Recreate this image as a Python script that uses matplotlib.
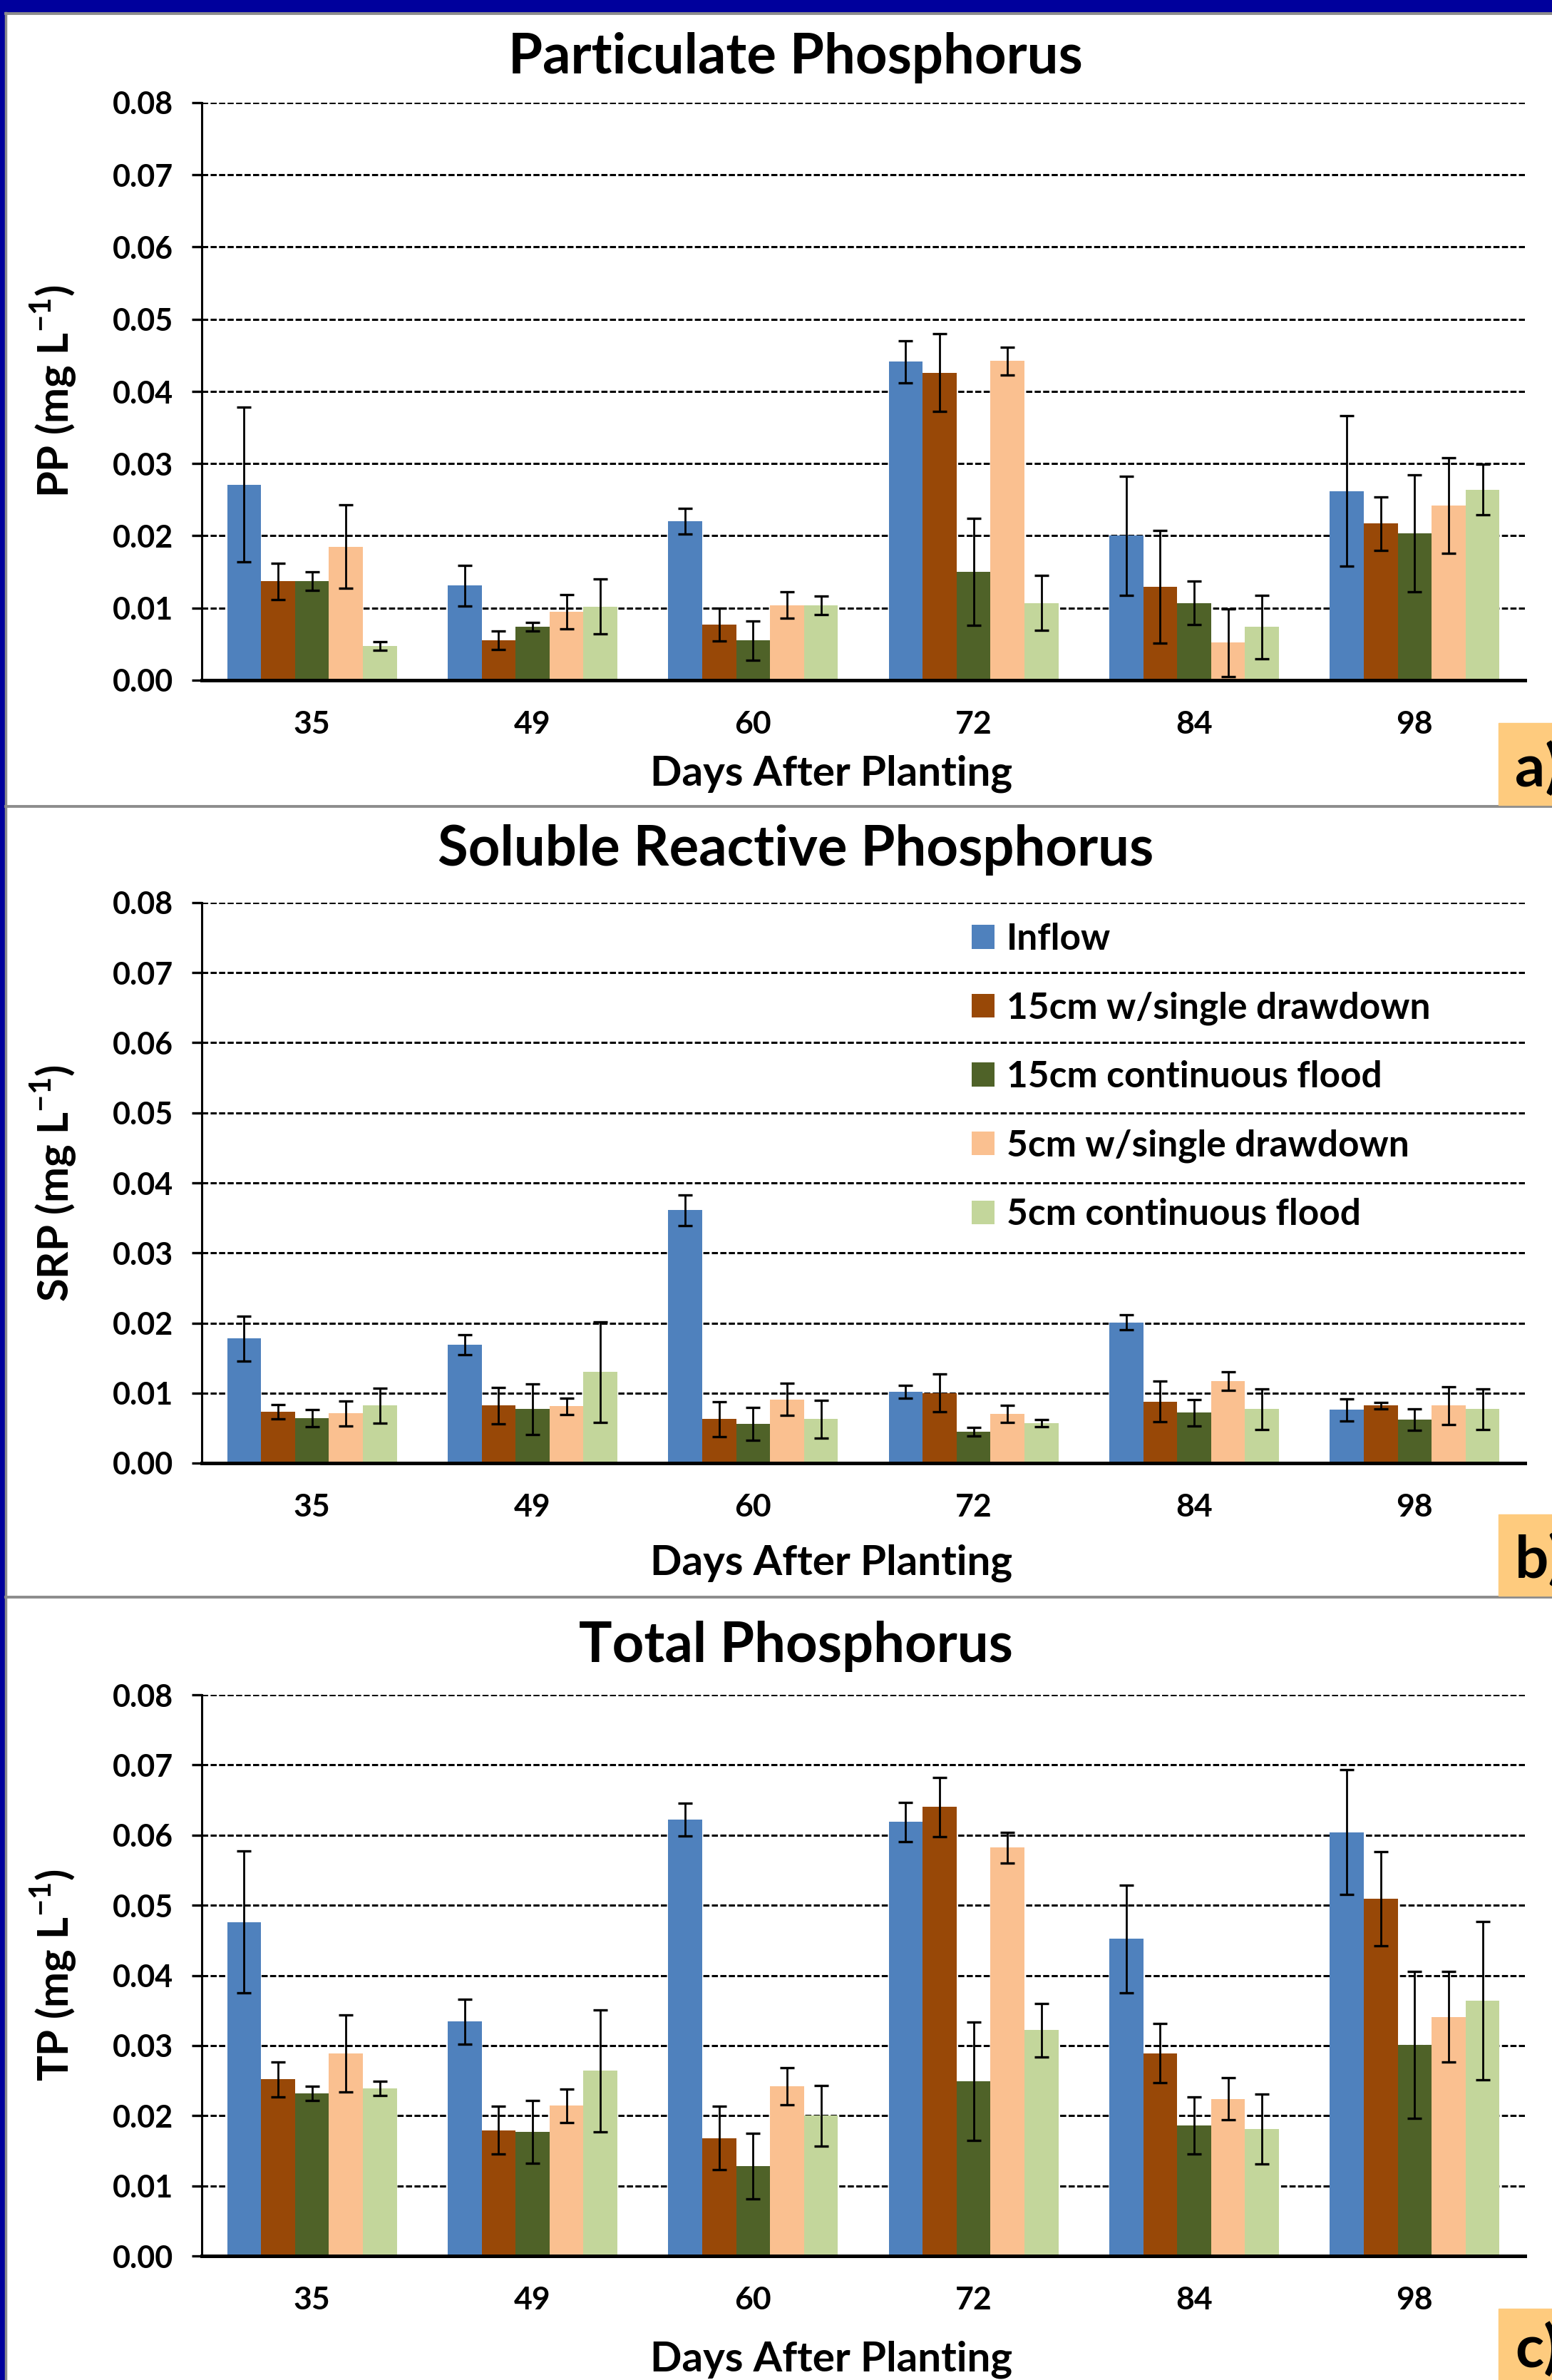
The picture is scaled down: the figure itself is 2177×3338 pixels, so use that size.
import matplotlib
matplotlib.use('Agg')
import matplotlib.pyplot as plt
import numpy as np
from matplotlib.patches import Rectangle
from matplotlib.lines import Line2D

plt.rcParams['font.family'] = ['Lato', 'DejaVu Sans']
plt.rcParams['font.weight'] = 'bold'
plt.rcParams['mathtext.fontset'] = 'custom'
plt.rcParams['mathtext.rm'] = 'Lato:bold'
plt.rcParams['mathtext.bf'] = 'Lato:bold'

days = ['35', '49', '60', '72', '84', '98']
treatments = ['Inflow', '15cm w/single drawdown', '15cm continuous flood',
              '5cm w/single drawdown', '5cm continuous flood']
colors = ['#4F81BD', '#984807', '#4F6228', '#FAC090', '#C3D69B']

# particulate P, one row per treatment
pp_mean = [
    [0.0271, 0.0131, 0.0220, 0.0441, 0.0200, 0.0262],
    [0.0137, 0.0055, 0.0077, 0.0426, 0.0129, 0.0217],
    [0.0137, 0.0074, 0.0055, 0.0150, 0.0107, 0.0203],
    [0.0185, 0.0095, 0.0104, 0.0442, 0.0052, 0.0242],
    [0.0047, 0.0102, 0.0104, 0.0107, 0.0074, 0.0264],
]
pp_err = [
    [0.0107, 0.0028, 0.0018, 0.0029, 0.0082, 0.0104],
    [0.0025, 0.0013, 0.0023, 0.0054, 0.0078, 0.0037],
    [0.0013, 0.0006, 0.0027, 0.0074, 0.0030, 0.0081],
    [0.0058, 0.0024, 0.0018, 0.0019, 0.0047, 0.0066],
    [0.0006, 0.0038, 0.0013, 0.0038, 0.0044, 0.0035],
]
# soluble reactive P
srp_mean = [
    [0.0178, 0.0169, 0.0361, 0.0102, 0.0201, 0.0076],
    [0.0073, 0.0082, 0.0063, 0.0100, 0.0088, 0.0082],
    [0.0064, 0.0077, 0.0056, 0.0045, 0.0072, 0.0062],
    [0.0071, 0.0081, 0.0091, 0.0070, 0.0117, 0.0082],
    [0.0082, 0.0130, 0.0063, 0.0057, 0.0077, 0.0077],
]
srp_err = [
    [0.0032, 0.0014, 0.0022, 0.0009, 0.0011, 0.0016],
    [0.0010, 0.0026, 0.0025, 0.0027, 0.0029, 0.0005],
    [0.0012, 0.0036, 0.0023, 0.0006, 0.0019, 0.0015],
    [0.0018, 0.0012, 0.0023, 0.0012, 0.0013, 0.0027],
    [0.0025, 0.0072, 0.0027, 0.0005, 0.0029, 0.0029],
]
# total P
tp_mean = [
    [0.0476, 0.0334, 0.0622, 0.0619, 0.0452, 0.0604],
    [0.0252, 0.0179, 0.0168, 0.0640, 0.0289, 0.0509],
    [0.0232, 0.0177, 0.0128, 0.0249, 0.0186, 0.0301],
    [0.0289, 0.0214, 0.0242, 0.0582, 0.0224, 0.0341],
    [0.0239, 0.0264, 0.0200, 0.0322, 0.0181, 0.0364],
]
tp_err = [
    [0.0101, 0.0032, 0.0023, 0.0028, 0.0077, 0.0089],
    [0.0025, 0.0034, 0.0045, 0.0042, 0.0042, 0.0067],
    [0.0010, 0.0045, 0.0047, 0.0084, 0.0041, 0.0105],
    [0.0055, 0.0024, 0.0026, 0.0022, 0.0030, 0.0065],
    [0.0010, 0.0087, 0.0043, 0.0038, 0.0050, 0.0113],
]

W, H = 2177, 3338
fig = plt.figure(figsize=(W / 100, H / 100), dpi=100)

# page frame: blue border, grey inner lines, panel separators
fig.add_artist(Rectangle((0, 0), 7 / W, 1, transform=fig.transFigure, color='#00009C', zorder=0))
fig.add_artist(Rectangle((0, 1 - 18 / H), 1, 18 / H, transform=fig.transFigure, color='#00009C', zorder=0))
fig.add_artist(Line2D([8 / W, 8 / W], [0, 1 - 18 / H], transform=fig.transFigure, color='#8C8C8C', lw=2.5))
for yy in [19.5, 1131, 2240]:
    fig.add_artist(Line2D([8 / W, 1], [1 - yy / H] * 2, transform=fig.transFigure, color='#8C8C8C', lw=2.8))

panels = [
    dict(mean=pp_mean, err=pp_err, title='Particulate Phosphorus', ylab='PP', top=144, bot=954,
         ty=81, xy=1085, lab='a)', box=(1014, 1129)),
    dict(mean=srp_mean, err=srp_err, title='Soluble Reactive Phosphorus', ylab='SRP', top=1266, bot=2052,
         ty=1192, xy=2192, lab='b)', box=(2124, 2238)),
    dict(mean=tp_mean, err=tp_err, title='Total Phosphorus', ylab='TP', top=2377, bot=3164,
         ty=2309, xy=3309, lab='c)', box=(3238, 3338)),
]

x = np.arange(len(days))
bw = 0.154
left_px, right_px = 283, 2139

for k, p in enumerate(panels):
    ax = fig.add_axes([left_px / W, 1 - p['bot'] / H, (right_px - left_px) / W, (p['bot'] - p['top']) / H])
    for i in range(len(treatments)):
        ax.bar(x + (i - 2) * bw, p['mean'][i], bw, color=colors[i], label=treatments[i], zorder=2,
               yerr=p['err'][i], error_kw=dict(ecolor='black', elinewidth=2.0, capsize=7, capthick=2.4, zorder=3))
    ax.set_xlim(-0.5, 5.5)
    ax.set_ylim(0, 0.08)
    ax.set_yticks(np.arange(0, 0.081, 0.01))
    ax.set_yticklabels(['%.2f' % v for v in np.arange(0, 0.081, 0.01)])
    ax.set_xticks(x)
    ax.set_xticklabels(days)
    ax.tick_params(axis='x', length=0, pad=30, labelsize=32)
    ax.tick_params(axis='y', direction='out', length=10, width=2.4, pad=19, labelsize=31)
    ax.yaxis.grid(True, color='black', lw=2.2, linestyle=(0, (2.8, 1.1)), zorder=1)
    ax.set_axisbelow(True)
    for s in ['top', 'right']:
        ax.spines[s].set_visible(False)
    ax.spines['left'].set_linewidth(2.2)
    ax.spines['bottom'].set_linewidth(3.6)
    ax.spines['bottom'].set_zorder(4)

    fig.text(1116 / W, 1 - p['ty'] / H, p['title'], ha='center', va='center', fontsize=56, fontweight='bold')
    fig.text(1166 / W, 1 - p['xy'] / H, 'Days After Planting', ha='center', va='center', fontsize=42,
             fontweight='bold')
    fig.text(75 / W, 1 - (p['top'] + p['bot']) / 2 / H, p['ylab'] + r' (mg L$^{-1}$)', ha='center',
             va='center', rotation=90, fontsize=43, fontweight='bold')

    # panel letter box
    bt, bb = p['box']
    fig.add_artist(Rectangle((2102 / W, 1 - bb / H), (W - 2102) / W, (bb - bt) / H, transform=fig.transFigure,
                             color='#FECB7E', zorder=5))
    fig.text(2125 / W, 1 - (bt + bb) / 2 / H - 0.002, p['lab'], ha='left', va='center', fontsize=60,
             fontweight='bold', zorder=6)

    if k == 1:
        ax.legend(loc='upper left', bbox_to_anchor=(1363 / W, 1 - 1294 / H), bbox_transform=fig.transFigure,
                  frameon=False, fontsize=37, handlelength=0.62, handleheight=0.62, handletextpad=0.33,
                  labelspacing=0.96, borderpad=0, borderaxespad=0)

fig.savefig('out.png', dpi=100, facecolor='white')
